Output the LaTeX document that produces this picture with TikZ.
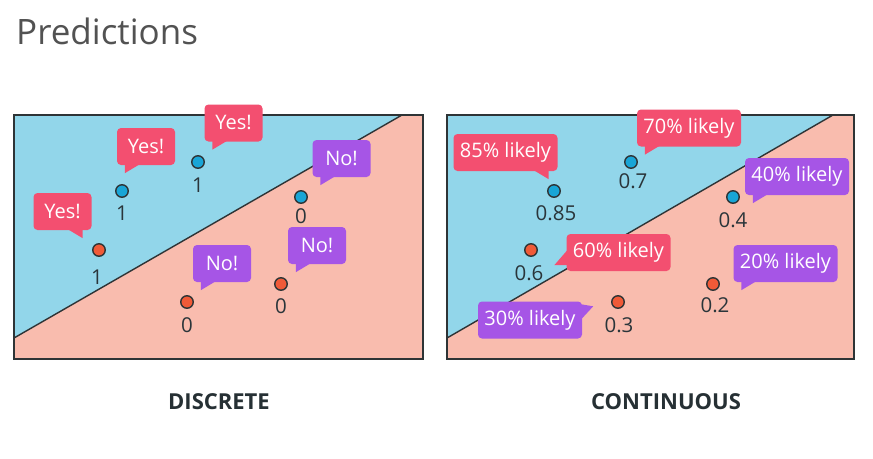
\documentclass[tikz,border=0pt]{standalone}
\usepackage{fontspec}
\setmainfont{Open Sans}
\definecolor{skyb}{HTML}{92D6EA}
\definecolor{salm}{HTML}{F9BCAE}
\definecolor{pinkb}{HTML}{F34F70}
\definecolor{purpb}{HTML}{A655E6}
\definecolor{dotblue}{HTML}{19A5D6}
\definecolor{dotred}{HTML}{F05A38}
\definecolor{edge}{HTML}{2E3436}
\definecolor{lbl}{HTML}{2A353A}
\tikzset{
  bubble/.style={rectangle, rounded corners=4pt, text=white, inner sep=0pt,
    minimum height=37pt, font=\fontsize{20}{22}\selectfont},
  yesb/.style={bubble, fill=pinkb, minimum width=58pt},
  nob/.style={bubble, fill=purpb, minimum width=58pt},
  pinkl/.style={bubble, fill=pinkb, minimum width=104pt},
  purpl/.style={bubble, fill=purpb, minimum width=104pt},
  bdot/.style={circle, draw=edge, line width=1.4pt, fill=dotblue, minimum size=12.5pt, inner sep=0pt},
  rdot/.style={circle, draw=edge, line width=1.4pt, fill=dotred, minimum size=12.5pt, inner sep=0pt},
  val/.style={text=lbl, inner sep=0pt, font=\fontsize{20.5}{22}\selectfont},
  captxt/.style={text=lbl!90!black, inner sep=0pt, font=\fontsize{22}{24}\selectfont\bfseries},
  frame/.style={draw=edge, line width=1.5pt},
  bound/.style={draw=edge, line width=1.4pt}
}
\newcommand{\tailBL}[2]{\fill[#2] ([shift={(8,-1)}]#1.south west) -- ([shift={(8,8)}]#1.south west) -- ([shift={(23,-1)}]#1.south west) -- cycle;}
\newcommand{\tailBR}[2]{\fill[#2] ([shift={(-9,-1)}]#1.south east) -- ([shift={(-9,8)}]#1.south east) -- ([shift={(-24,-1)}]#1.south east) -- cycle;}
\begin{document}
\begin{tikzpicture}[x=1pt,y=-1pt]
\useasboundingbox[fill=white] (0,0) rectangle (873,458);
\node[anchor=base west, text=black!68, inner sep=0pt, font=\fontsize{35}{38}\selectfont] (title) at (16,44) {Predictions};

% ---- left panel
\coordinate (Lnw) at (14,115);
\coordinate (Lse) at (423,359);
\coordinate (La) at (14,338);
\coordinate (Lb) at (402,115);
\fill[skyb] (Lnw) rectangle (Lse);
\fill[salm] (La) -- (Lb) -- (423,115) -- (423,359) -- (14,359) -- cycle;
\draw[bound] (La) -- (Lb);
\draw[frame] (Lnw) rectangle (Lse);

% ---- right panel
\coordinate (Rnw) at (447,115);
\coordinate (Rse) at (854,359);
\coordinate (Ra) at (447,338);
\coordinate (Rb) at (833,115);
\fill[skyb] (Rnw) rectangle (Rse);
\fill[salm] (Ra) -- (Rb) -- (854,115) -- (854,359) -- (447,359) -- cycle;
\draw[bound] (Ra) -- (Rb);
\draw[frame] (Rnw) rectangle (Rse);

% ---- left dots
\node[bdot] (d1) at (122,191) {};
\node[val] (v1) at (122,213) {1};
\node[bdot] (d2) at (198,162) {};
\node[val] (v2) at (198,185) {1};
\node[bdot] (d3) at (301,197) {};
\node[val] (v3) at (301,216) {0};
\node[rdot] (d4) at (99,250) {};
\node[val] (v4) at (97,277) {1};
\node[rdot] (d5) at (187,302) {};
\node[val] (v5) at (187,325) {0};
\node[rdot] (d6) at (281,284) {};
\node[val] (v6) at (281,306) {0};

% ---- left bubbles
\node[yesb] (y1) at (146,146.5) {Yes!};
\node[yesb] (y2) at (233.5,123) {Yes!};
\node[yesb] (y3) at (62.5,211.5) {Yes!};
\node[nob] (n1) at (341.5,158.5) {No!};
\node[nob] (n2) at (222,263.5) {No!};
\node[nob] (n3) at (317,245.5) {No!};
\tailBL{y1}{pinkb}
\tailBL{y2}{pinkb}
\tailBR{y3}{pinkb}
\tailBL{n1}{purpb}
\tailBL{n2}{purpb}
\tailBL{n3}{purpb}

% ---- right dots
\node[bdot] (e1) at (554,191) {};
\node[val] (w1) at (556,213) {0.85};
\node[bdot] (e2) at (631,162) {};
\node[val] (w2) at (633,181) {0.7};
\node[bdot] (e3) at (733,197) {};
\node[val] (w3) at (733,220) {0.4};
\node[rdot] (e4) at (531,250) {};
\node[val] (w4) at (529,273) {0.6};
\node[rdot] (e5) at (618,302) {};
\node[val] (w5) at (619,325) {0.3};
\node[rdot] (e6) at (713,284) {};
\node[val] (w6) at (715,305) {0.2};

% ---- right bubbles
\node[pinkl] (p85) at (505.5,152.5) {85\% likely};
\node[pinkl] (p70) at (689,128) {70\% likely};
\node[purpl] (p40) at (797,176.5) {40\% likely};
\node[pinkl] (p60) at (618.5,252.5) {60\% likely};
\node[purpl] (p20) at (785.5,263.5) {20\% likely};
\node[purpl] (p30) at (530,320) {30\% likely};
\tailBR{p85}{pinkb}
\tailBL{p70}{pinkb}
\tailBL{p40}{purpb}
\tailBL{p20}{purpb}
\fill[pinkb] ([shift={(1,-21)}]p60.south west) -- ([shift={(-12,-6)}]p60.south west) -- ([shift={(1,-6)}]p60.south west) -- cycle;
\fill[purpb] ([shift={(-1,3)}]p30.north east) -- ([shift={(11,5)}]p30.north east) -- ([shift={(-1,18)}]p30.north east) -- cycle;

% ---- captions
\node[captxt] (c1) at (219,402) {DISCRETE};
\node[captxt] (c2) at (666,402) {CONTINUOUS};
\end{tikzpicture}
\end{document}
